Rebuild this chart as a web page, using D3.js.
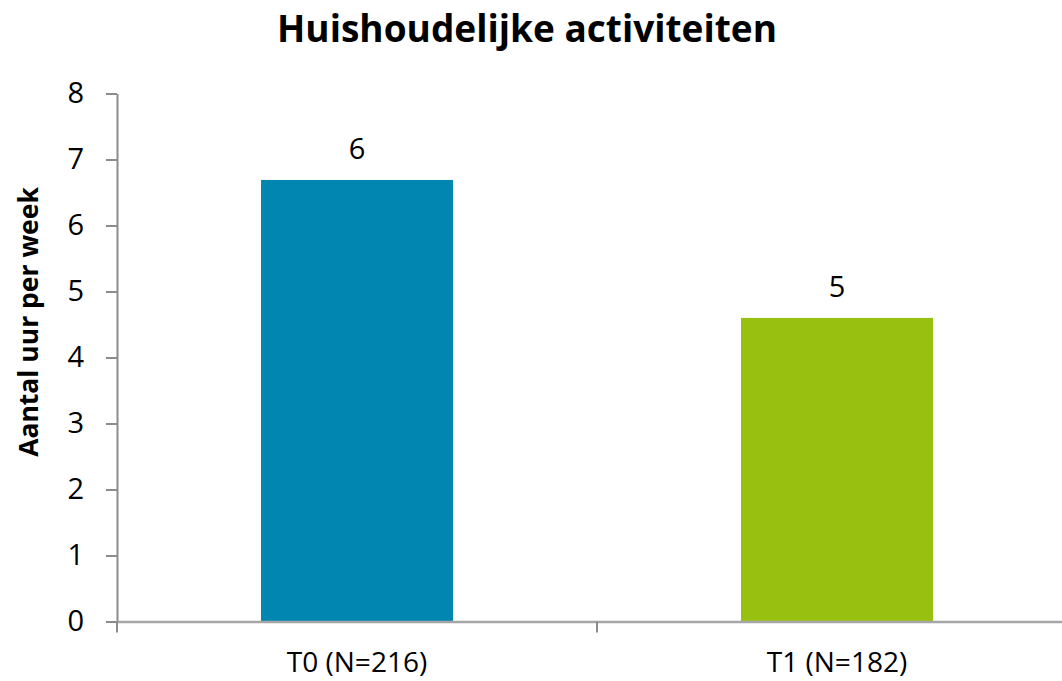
<!DOCTYPE html>
<html>
<head>
<meta charset="utf-8">
<script src="https://cdn.jsdelivr.net/npm/d3@7"></script>
<style>
  body { margin: 0; background: #fff; }
  text { font-family: "Open Sans", "Liberation Sans", sans-serif; }
</style>
</head>
<body>
<div id="chart"></div>
<script>
var width = 1062,
  height = 681;

// data
var categories = ['T0 (N=216)', 'T1 (N=182)'];
var values = [6.69, 4.6];
var valueLabels = ['6', '5'];
var barColors = ['#0086b0', '#98c010'];
var yTicks = [0, 1, 2, 3, 4, 5, 6, 7, 8];

var margin = { top: 93.5, left: 117, bottom: 59.5 };
var plotRight = 1077; // axis runs past the visible edge
var labelFont = '"Open Sans", "Liberation Sans", sans-serif';

var svg = d3.select('#chart')
  .append('svg')
  .attr('width', width)
  .attr('height', height);

var x = d3.scaleBand()
  .domain(categories)
  .range([margin.left, plotRight])
  .paddingInner(0)
  .paddingOuter(0);

var y = d3.scaleLinear()
  .domain([0, 8])
  .range([height - margin.bottom, margin.top]);

var barW = x.bandwidth() * 0.4;

// bars
svg.append('g')
  .selectAll('rect')
  .data(values)
  .join('rect')
  .attr('x', (d, i) => x(categories[i]) + (x.bandwidth() - barW) / 2)
  .attr('y', d => y(d))
  .attr('width', barW)
  .attr('height', d => y(0) - y(d))
  .attr('fill', (d, i) => barColors[i]);

// value labels
svg.append('g')
  .selectAll('text')
  .data(values)
  .join('text')
  .attr('x', (d, i) => x(categories[i]) + x.bandwidth() / 2)
  .attr('y', d => y(d) - 21)
  .attr('text-anchor', 'middle')
  .style('font-size', '29px')
  .attr('fill', '#000')
  .text((d, i) => valueLabels[i]);

// y axis
var yAxis = svg.append('g')
  .attr('transform', 'translate(' + margin.left + ',0)')
  .call(d3.axisLeft(y).tickValues(yTicks).tickSize(11).tickPadding(22).tickSizeOuter(0));
yAxis.select('.domain').attr('stroke', '#8c8c8c').attr('stroke-width', 2);
yAxis.selectAll('.tick line').attr('stroke', '#8c8c8c').attr('stroke-width', 2);
yAxis.selectAll('.tick text')
  .style('font-size', '29px')
  .style('font-family', labelFont)
  .attr('fill', '#000');

// x axis
var xAxis = svg.append('g')
  .attr('transform', 'translate(0,' + y(0) + ')')
  .call(d3.axisBottom(x).tickSize(0).tickPadding(31).tickSizeOuter(0));
xAxis.select('.domain').attr('stroke', '#a6a6a6').attr('stroke-width', 2.5);
xAxis.selectAll('.tick text')
  .style('font-size', '28px')
  .style('font-family', labelFont)
  .attr('fill', '#000');

// category boundary ticks
var boundaries = categories.map(c => x(c)).concat([plotRight]);
svg.append('g')
  .selectAll('line')
  .data(boundaries)
  .join('line')
  .attr('x1', d => d)
  .attr('x2', d => d)
  .attr('y1', y(0))
  .attr('y2', y(0) + 11)
  .attr('stroke', '#8c8c8c')
  .attr('stroke-width', 2);

// title
svg.append('text')
  .attr('x', 527)
  .attr('y', 42)
  .attr('text-anchor', 'middle')
  .style('font-size', '37px')
  .style('font-weight', 'bold')
  .text('Huishoudelijke activiteiten');

// y axis title
svg.append('text')
  .attr('transform', 'translate(38,322) rotate(-90)')
  .attr('text-anchor', 'middle')
  .style('font-size', '26.5px')
  .style('font-weight', 'bold')
  .text('Aantal uur per week');
</script>
</body>
</html>
